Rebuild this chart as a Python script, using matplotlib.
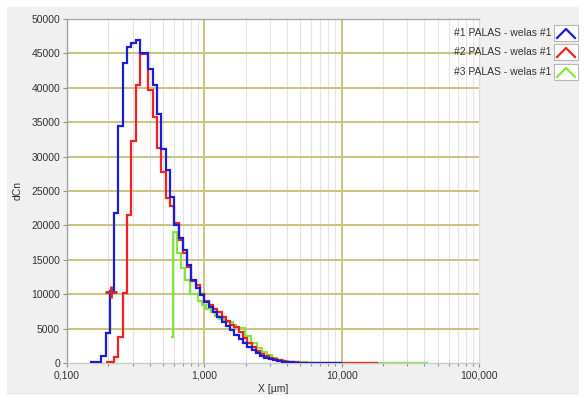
import matplotlib
matplotlib.use("Agg")
import matplotlib.pyplot as plt
from matplotlib.patches import Rectangle
from matplotlib.ticker import FixedLocator, FixedFormatter, NullFormatter

# bin edges (um)
grid_um = [0.178, 0.191, 0.205, 0.221, 0.237, 0.255, 0.274, 0.294, 0.316, 0.340,
           0.365, 0.392, 0.422, 0.453, 0.487, 0.523, 0.562, 0.604, 0.649, 0.698,
           0.750, 0.806, 0.866, 0.931, 1.000, 1.075, 1.155, 1.241, 1.334, 1.433,
           1.540, 1.655, 1.778, 1.911, 2.054, 2.207, 2.371, 2.548, 2.738, 2.943,
           3.162, 3.398, 3.652, 3.924, 4.217, 4.532, 4.870, 5.233, 5.623, 6.043,
           6.494, 6.978, 7.499, 8.058, 8.660, 9.306, 10.0]

blue_edges = [0.146] + grid_um
blue_vals = [150, 1000, 4350, 10500, 21800, 34500, 43600, 45900, 46500, 46900,
             45000, 45000, 42700, 40400, 36100, 31100, 28000, 24200, 20100, 18200,
             16500, 14300, 12100, 10900, 9900, 8950, 8230, 7500, 6770, 6050,
             5420, 4840, 4110, 3560, 2900, 2410, 1930, 1450, 1060, 810,
             600, 450, 350, 260, 200, 150, 110, 80, 60, 45,
             35, 25, 20, 15, 10, 8, 5]

red_edges = grid_um[1:] + [18.4]
red_vals = [200, 200, 900, 3800, 10200, 21500, 32200, 40400, 44900, 44900,
            39600, 35800, 31300, 27800, 24000, 22800, 20300, 17900, 16000, 14000,
            12000, 11300, 10000, 9000, 8500, 7900, 7440, 6720, 6200, 5500,
            5300, 4600, 3700, 2900, 2330, 1830, 1350, 1060, 810, 600,
            450, 330, 250, 190, 140, 100, 75, 55, 40, 30,
            20, 15, 10, 8, 5, 0]

green_edges = [0.570, 0.587, 0.628, 0.675, 0.721, 0.784, 0.897, 0.959, 1.034, 1.11,
               1.19, 1.28, 1.38, 1.48, 1.61, 1.70, 1.97, 2.19, 2.40, 2.62,
               2.86, 3.12, 3.40, 3.72, 4.06, 4.5, 5.0, 5.6, 6.3, 7.1,
               8.0, 9.0, 10.0, 12.0, 14.0, 42.5]
green_vals = [3870, 19100, 16000, 13900, 12100, 10000, 9000, 8400, 7900, 7400,
              6900, 6400, 6100, 6000, 5500, 5100, 4000, 3000, 2200, 1600,
              1150, 800, 550, 380, 260, 180, 120, 80, 55, 35,
              25, 15, 10, 5, 0]

cursor_x = [0.208]
cursor_y = [10300]

series_names = ["#1 PALAS - welas #1", "#2 PALAS - welas #1", "#3 PALAS - welas #1"]
series_colors = ["#1c1cd8", "#f02222", "#82e63c"]

xtick_vals = [0.1, 1, 10, 100]
xtick_labels = ["0,100", "1,000", "10,000", "100,000"]
ytick_vals = list(range(0, 50001, 5000))

plt.rcParams["font.family"] = ["Liberation Sans", "DejaVu Sans"]
plt.rcParams["font.size"] = 7.5

W, H = 586, 403
fig = plt.figure(figsize=(W / 100, H / 100), dpi=100, facecolor="white")
fig.patches.append(Rectangle((7 / W, 1 - 395 / H), 572 / W, 388 / H,
                             transform=fig.transFigure, facecolor="#f0f0f0",
                             edgecolor="none", zorder=-10))

ax = fig.add_axes([67 / W, 1 - 363.3 / H, (479 - 67) / W, (363.3 - 18.7) / H])
ax.set_zorder(1)
ax.set_facecolor("white")
ax.set_xscale("log")
ax.set_xlim(0.1, 100)
ax.set_ylim(0, 50000)

# grid
grid_col = "#cbc47e"
minor_x = [m * 10.0 ** e for e in (-1, 0, 1) for m in range(2, 10)]
for xv in minor_x:
    ax.axvline(xv, color="#e4e4e4", lw=0.8, zorder=1)
for xv in (1, 10):
    ax.axvline(xv, color=grid_col, lw=1.4, zorder=1)
for yv in ytick_vals[1:-1]:
    ax.axhline(yv, color=grid_col, lw=1.4, zorder=1)

ax.stairs(green_vals, green_edges, baseline=None, color=series_colors[2], lw=1.6, zorder=3)
ax.stairs(red_vals, red_edges, baseline=None, color=series_colors[1], lw=1.6, zorder=4)
ax.stairs(blue_vals, blue_edges, baseline=None, color=series_colors[0], lw=1.6, zorder=5)
ax.plot(cursor_x, cursor_y, marker="+", color="#c8282a", ms=9, mew=2, ls="none", zorder=6)

ax.xaxis.set_major_locator(FixedLocator(xtick_vals))
ax.xaxis.set_major_formatter(FixedFormatter(xtick_labels))
ax.xaxis.set_minor_locator(FixedLocator(minor_x))
ax.xaxis.set_minor_formatter(NullFormatter())
ax.set_yticks(ytick_vals)
ax.set_yticklabels([str(v) for v in ytick_vals])
ax.tick_params(axis="both", which="both", direction="out", color="#909090",
               labelcolor="#333333", length=3, width=0.8, pad=2)
ax.tick_params(axis="x", which="minor", length=2)

for side, col in [("left", "#a0a0a0"), ("top", "#a8a8a8"),
                  ("bottom", "#c8c8c8"), ("right", "#e0e0e0")]:
    ax.spines[side].set_color(col)
    ax.spines[side].set_linewidth(1.0)

ax.set_xlabel("X [µm]", color="#333333", labelpad=3)
ax.set_ylabel("dCn", color="#333333", labelpad=6)

# legend drawn at the top right
row_y = [33, 52, 72]
for name, col, py in zip(series_names, series_colors, row_y):
    fig.text(551 / W, 1 - py / H, name, ha="right", va="center",
             color="#333333", fontsize=7.5, zorder=10)
    fig.patches.append(Rectangle((554 / W, 1 - (py + 8) / H), 24 / W, 16 / H,
                                 transform=fig.transFigure, facecolor="white",
                                 edgecolor="#b8b8b8", lw=0.8, zorder=10))
    fig.lines.append(plt.Line2D([557 / W, 566 / W, 575 / W],
                                [1 - (py + 5) / H, 1 - (py - 4) / H, 1 - (py + 5) / H],
                                transform=fig.transFigure, color=col, lw=1.6, zorder=11))

fig.savefig("out.png", dpi=100, facecolor="white")
